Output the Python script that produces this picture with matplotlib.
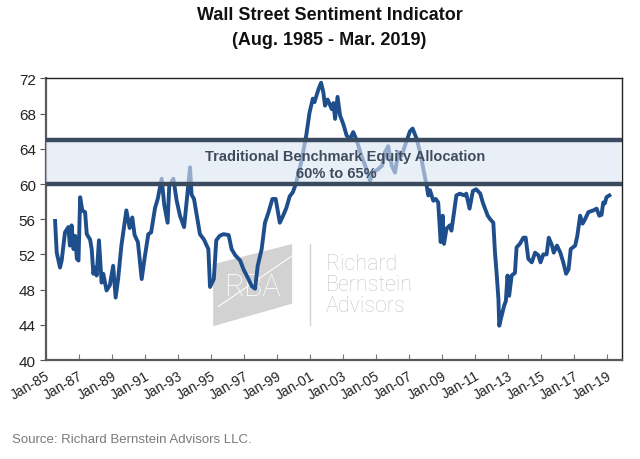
import matplotlib
matplotlib.use("Agg")
import matplotlib.pyplot as plt
from matplotlib.patches import Polygon

plt.rcParams["font.family"] = ["Liberation Sans", "DejaVu Sans"]

# readings (decimal year, equity allocation %)
years = [
    1985.58, 1985.68, 1985.88, 1985.98, 1986.18, 1986.38, 1986.48, 1986.58, 1986.70, 1986.80,
    1986.90, 1987.00, 1987.10, 1987.23, 1987.40, 1987.50, 1987.70, 1987.80, 1987.90, 1988.00,
    1988.10, 1988.24, 1988.40, 1988.50, 1988.70, 1988.90, 1989.10, 1989.25, 1989.40, 1989.60,
    1989.90, 1990.10, 1990.26, 1990.40, 1990.60, 1990.83, 1991.00, 1991.23, 1991.40, 1991.64,
    1991.80, 1992.04, 1992.20, 1992.40, 1992.50, 1992.75, 1992.95, 1993.15, 1993.40, 1993.76,
    1993.85, 1994.00, 1994.36, 1994.60, 1994.87, 1994.97, 1995.20, 1995.35, 1995.55, 1995.78,
    1996.10, 1996.28, 1996.50, 1996.80, 1997.00, 1997.30, 1997.50, 1997.70, 1997.86, 1998.10,
    1998.30, 1998.50, 1998.75, 1998.95, 1999.20, 1999.40, 1999.60, 1999.80, 2000.00, 2000.20,
    2000.50, 2000.80, 2001.00, 2001.20, 2001.30, 2001.55, 2001.70, 2001.84, 2001.94, 2002.10,
    2002.35, 2002.45, 2002.55, 2002.70, 2002.85, 2003.05, 2003.25, 2003.45, 2003.65, 2003.85,
    2004.15, 2004.45, 2004.67, 2004.85, 2005.17, 2005.40, 2005.57, 2005.77, 2005.98, 2006.18,
    2006.38, 2006.58, 2006.79, 2007.09, 2007.25, 2007.50, 2007.70, 2007.90, 2008.10, 2008.20,
    2008.30, 2008.50, 2008.65, 2008.80, 2008.95, 2009.07, 2009.15, 2009.30, 2009.50, 2009.60,
    2009.70, 2009.90, 2010.10, 2010.40, 2010.50, 2010.70, 2010.90, 2011.10, 2011.35, 2011.50,
    2011.80, 2011.95, 2012.14, 2012.24, 2012.35, 2012.45, 2012.50, 2012.60, 2012.80, 2012.90,
    2013.00, 2013.10, 2013.25, 2013.45, 2013.55, 2013.75, 2013.96, 2014.10, 2014.26, 2014.47,
    2014.67, 2014.87, 2015.00, 2015.17, 2015.37, 2015.50, 2015.70, 2015.80, 2016.00, 2016.20,
    2016.38, 2016.55, 2016.70, 2016.83, 2017.10, 2017.23, 2017.40, 2017.55, 2017.70, 2017.90,
    2018.20, 2018.40, 2018.56, 2018.70, 2018.80, 2018.90, 2019.00, 2019.17,
]
sentiment = [
    55.8, 52.2, 50.5, 51.3, 54.5, 55.1, 53.0, 55.3, 52.6, 54.1,
    51.5, 51.3, 58.5, 57.0, 56.8, 54.3, 53.7, 52.6, 49.8, 50.5,
    49.6, 53.6, 48.8, 49.8, 47.9, 48.5, 50.7, 47.1, 49.2, 53.0,
    57.0, 55.0, 56.2, 54.2, 53.4, 49.2, 51.5, 54.3, 54.5, 57.3,
    58.3, 60.6, 57.6, 55.6, 59.8, 60.6, 58.1, 56.4, 55.1, 61.9,
    58.8, 58.3, 54.3, 53.7, 52.6, 48.3, 49.2, 53.6, 54.1, 54.3,
    54.2, 52.6, 51.9, 51.3, 50.3, 49.2, 48.4, 48.1, 50.7, 52.6,
    55.6, 56.7, 58.3, 58.3, 55.6, 56.4, 57.3, 58.6, 59.1, 60.2,
    62.5, 65.5, 68.1, 69.7, 69.3, 70.8, 71.5, 70.4, 68.9, 69.6,
    68.5, 69.2, 67.4, 69.9, 67.8, 66.8, 65.5, 65.1, 65.9, 65.0,
    63.2, 61.7, 60.4, 61.3, 61.7, 62.1, 63.6, 64.3, 62.1, 61.3,
    63.6, 63.2, 64.4, 66.0, 66.3, 65.1, 63.6, 61.7, 59.8, 58.7,
    59.3, 58.1, 58.3, 57.9, 53.4, 56.4, 53.2, 54.9, 55.3, 54.7,
    56.0, 58.7, 58.9, 58.7, 58.9, 57.2, 59.2, 59.4, 58.9, 57.9,
    56.4, 56.0, 55.6, 52.2, 49.6, 46.9, 43.9, 44.7, 46.2, 46.7,
    49.6, 47.3, 49.6, 49.9, 52.8, 53.2, 53.9, 53.9, 51.5, 51.1,
    52.2, 51.9, 51.1, 52.0, 52.0, 53.9, 53.0, 52.2, 53.0, 52.2,
    51.1, 49.8, 50.3, 52.6, 53.0, 54.1, 56.4, 55.5, 56.0, 56.8,
    57.0, 57.2, 56.4, 56.5, 57.9, 57.8, 58.5, 58.7,
]

band_low, band_high = 60, 65
tick_years = list(range(1985, 2020, 2))
tick_labels = [f"Jan-{y % 100:02d}" for y in tick_years]
y_ticks = list(range(40, 73, 4))

fig = plt.figure(figsize=(6.4, 4.6), dpi=100)
ax = fig.add_axes([0.0711, 0.2152, 0.9003, 0.6122])

# watermark
wm_color = "#d2d2d2"
ax.add_patch(Polygon([(0.291, 0.340), (0.428, 0.412), (0.428, 0.200), (0.291, 0.120)],
                     closed=True, transform=ax.transAxes, facecolor=wm_color,
                     edgecolor="none", zorder=0))
ax.plot([0.30, 0.428], [0.19, 0.37], transform=ax.transAxes, color="white", lw=0.8, zorder=0.5)
ax.text(0.360, 0.262, "RBA", transform=ax.transAxes, ha="center", va="center",
        color="white", fontsize=22, family=["Roboto", "DejaVu Sans"], fontweight="light", zorder=0.6)
ax.plot([0.459, 0.459], [0.125, 0.412], transform=ax.transAxes, color=wm_color, lw=1.0, zorder=0)
ax.text(0.487, 0.268, "Richard\nBernstein\nAdvisors", transform=ax.transAxes, ha="left",
        va="center", color="#c6c6c6", fontsize=15.5, linespacing=0.98,
        family=["Roboto", "DejaVu Sans"], fontweight="light", zorder=0)

# sentiment line
ax.plot(years, sentiment, color="#1f4e8d", lw=2.8, solid_joinstyle="round", zorder=2)

# benchmark band drawn on top so the line shows faded through it
ax.axhspan(band_low, band_high, facecolor="#dde6f3", alpha=0.62, edgecolor="none", zorder=3)
ax.axhline(band_low, color="#3b4b5f", lw=3.2, zorder=4)
ax.axhline(band_high, color="#3b4b5f", lw=3.2, zorder=4)
ax.text(2003.15, 63.2, "Traditional Benchmark Equity Allocation", ha="center", va="center",
        fontsize=10.5, fontweight="bold", color="#3f4c5e", zorder=5)
ax.text(2002.6, 61.2, "60% to 65%", ha="center", va="center",
        fontsize=10.5, fontweight="bold", color="#3f4c5e", zorder=5)

ax.set_xlim(1985, 2019.92)
ax.set_ylim(40, 72)
ax.set_yticks(y_ticks)
ax.set_xticks(tick_years)
ax.set_xticklabels(tick_labels, rotation=30, ha="right", rotation_mode="anchor")
ax.tick_params(axis="y", direction="out", length=4, labelsize=11, colors="#555555",
               labelcolor="#222222", pad=3)
ax.tick_params(axis="x", direction="in", length=4, labelsize=10, colors="#777777",
               labelcolor="#222222", pad=6)

for side in ["left", "bottom"]:
    ax.spines[side].set_color("#5a5a5a")
    ax.spines[side].set_linewidth(1.6)
for side in ["top", "right"]:
    ax.spines[side].set_color("#222222")
    ax.spines[side].set_linewidth(1.0)

fig.text(0.515, 0.967, "Wall Street Sentiment Indicator", ha="center", va="center",
         fontsize=13, fontweight="bold", color="#111111")
fig.text(0.515, 0.913, "(Aug. 1985 - Mar. 2019)", ha="center", va="center",
         fontsize=13, fontweight="bold", color="#111111")
fig.text(0.018, 0.043, "Source: Richard Bernstein Advisors LLC.", ha="left", va="center",
         fontsize=9.5, color="#7a7a7a")

fig.savefig("out.png", dpi=100)
